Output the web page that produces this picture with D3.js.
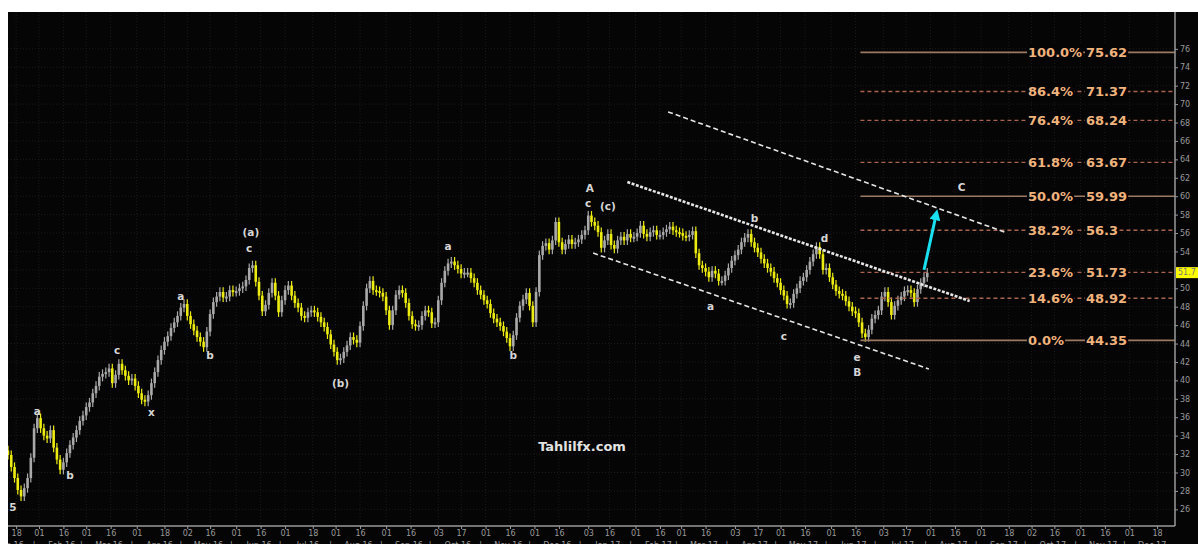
<!DOCTYPE html>
<html>
<head>
<meta charset="utf-8">
<script src="https://cdn.jsdelivr.net/npm/d3@7"></script>
<style>
  body { margin: 0; background: #fff; }
  svg { display: block; }
</style>
</head>
<body>
<svg id="chart" width="1198" height="544"></svg>
<script>
// ---- data ----
const startDate = '2016-01-13', stepDays = 2;      // one bar every 2 calendar days
const firstOpen = 32.4;
const closes = [
  31.9,30.6,29.4,28.1,27.4,28.3,29.4,31.6,34.8,35.9,34.8,34.0,33.7,34.6,32.7,31.4,30.3,31.1,32.1,33.0,33.8,
  34.6,35.6,36.2,37.1,37.6,38.6,39.4,40.4,40.7,40.9,41.3,39.7,40.6,41.8,41.1,40.5,40.0,40.2,39.4,38.6,37.9,37.7,38.4,
  39.7,40.9,42.2,43.3,44.2,44.8,45.7,46.3,47.0,47.9,48.3,47.0,46.1,45.4,44.7,44.2,43.6,
  45.3,47.2,48.5,49.1,49.6,49.0,49.1,49.8,49.6,49.7,50.0,50.2,50.9,52.2,52.5,
  50.7,49.2,47.5,48.2,49.5,50.6,49.2,47.4,48.7,49.8,50.3,49.2,48.4,47.9,47.0,46.8,47.4,47.6,47.4,46.9,46.3,45.8,45.0,43.9,43.1,42.2,
  42.4,43.1,43.8,44.7,44.4,44.1,45.9,48.1,50.0,50.8,49.8,49.7,49.5,49.1,47.6,46.0,47.6,49.3,49.8,49.5,48.4,47.0,46.1,45.9,46.0,47.0,47.6,47.4,46.2,46.3,
  48.7,50.6,51.9,52.7,52.9,52.5,52.1,51.6,51.7,51.7,51.1,50.6,49.8,49.3,48.7,48.3,47.3,46.7,46.3,45.9,45.3,44.6,43.7,44.9,46.8,48.1,48.8,49.5,48.1,46.3,49.6,
  53.6,54.6,54.9,54.2,55.2,57.2,55.0,54.2,54.8,55.3,54.8,55.0,55.3,55.8,56.3,57.9,57.2,56.8,56.1,54.4,55.2,55.9,54.7,54.3,55.2,55.6,55.2,55.9,55.5,55.6,
  56.0,56.8,55.9,55.6,56.1,56.3,55.8,55.8,56.1,56.4,56.7,56.3,56.1,56.0,55.7,55.6,55.8,56.2,
  53.8,52.5,52.2,51.8,51.2,51.9,51.6,50.8,50.8,51.4,52.2,53.0,53.6,54.2,55.0,55.5,55.9,55.0,54.4,53.9,53.2,52.7,52.2,51.8,51.1,50.6,49.8,49.2,48.3,48.4,
  49.4,50.0,50.8,51.2,52.0,52.9,53.7,54.5,53.7,52.0,52.2,51.2,50.4,49.7,49.4,49.2,48.6,48.0,47.5,47.3,46.3,45.1,44.7,45.5,46.7,47.1,47.6,49.1,49.6,48.5,
  47.1,48.1,48.7,49.1,49.7,49.8,49.5,48.5,49.9,50.6,51.2,51.7
];

const fibPct = [100.0, 86.4, 76.4, 61.8, 50.0, 38.2, 23.6, 14.6, 0.0];
const fibVal = [75.62, 71.37, 68.24, 63.67, 59.99, 56.3, 51.73, 48.92, 44.35];
const fibSolid = [true, false, false, false, true, false, false, false, true];
const fibStart = '2017-06-19';

const waveText  = ['5','a','b','c','x','a','b','(a)','c','(b)','a','b','A','c','(c)','a','b','c','d','e','B','C'];
const waveDate  = ['2016-01-16','2016-01-31','2016-02-20','2016-03-20','2016-04-10','2016-04-28','2016-05-16',
                   '2016-06-10','2016-06-09','2016-08-04','2016-10-09','2016-11-18','2017-01-04','2017-01-03',
                   '2017-01-15','2017-03-19','2017-04-15','2017-05-03','2017-05-28','2017-06-17','2017-06-17','2017-08-20'];
const wavePrice = [26.25,36.68,29.73,43.30,36.57,49.16,42.76,56.12,54.38,39.72,54.6,42.76,
                   60.89,59.26,58.94,48.08,57.64,44.82,55.46,42.54,40.91,61.0];

// channel lines: [date1, price1, date2, price2]
const chanOuter = ['2017-02-21', 69.15, '2017-09-17', 56.01];
const chanMid   = ['2017-01-27', 61.54, '2017-08-25', 48.62];
const chanLow   = ['2017-01-06', 53.83, '2017-07-31', 41.24];
const arrowPts  = ['2017-07-28', 52.0, '2017-08-04', 57.64];

const yTicks = [26,28,30,32,34,36,38,40,42,44,46,48,50,52,54,56,58,60,62,64,66,68,70,72,74,76];
const dayTicks = ['2016-01-18','2016-02-01','2016-02-16','2016-03-01','2016-03-16','2016-04-01','2016-04-18',
  '2016-05-02','2016-05-16','2016-06-01','2016-06-16','2016-07-01','2016-07-18','2016-08-01','2016-08-16',
  '2016-09-01','2016-09-16','2016-10-03','2016-10-17','2016-11-01','2016-11-16','2016-12-01','2016-12-16',
  '2017-01-03','2017-01-16','2017-02-01','2017-02-16','2017-03-01','2017-03-16','2017-04-03','2017-04-17',
  '2017-05-01','2017-05-16','2017-06-01','2017-06-16','2017-07-03','2017-07-17','2017-08-01','2017-08-16',
  '2017-09-01','2017-09-18','2017-10-02','2017-10-16','2017-11-01','2017-11-16','2017-12-01','2017-12-18'];
const months = ['Jan 16','Feb 16','Mar 16','Apr 16','May 16','Jun 16','Jul 16','Aug 16','Sep 16','Oct 16','Nov 16','Dec 16',
                'Jan 17','Feb 17','Mar 17','Apr 17','May 17','Jun 17','Jul 17','Aug 17','Sep 17','Oct 17','Nov 17','Dec 17'];

// ---- chart ----
const W = 1198, H = 544,
      plot = {l: 8, t: 12, r: 1175, b: 526},
      wick = 0.5,
      axisCol = '#9a9a9a',
      font = 'DejaVu Sans, Verdana, sans-serif';

const parse = d3.utcParse('%Y-%m-%d');
const svg = d3.select('#chart');

svg.append('rect').attr('x', plot.l).attr('y', plot.t)
   .attr('width', W - plot.l).attr('height', H - plot.t).attr('fill', '#050505');

const x = d3.scaleUtc().domain([parse('2016-01-13'), parse('2017-12-29')]).range([plot.l, plot.r]);
const y = d3.scaleLinear().domain([24.19, 80]).range([plot.b, plot.t]);

// faint dotted grid
const grid = svg.append('g').attr('stroke', '#1b1b1b').attr('stroke-dasharray', '1,2').attr('stroke-width', 1);
grid.selectAll('line.h').data(yTicks).join('line').attr('class', 'h')
    .attr('x1', plot.l).attr('x2', plot.r).attr('y1', d => y(d)).attr('y2', d => y(d));
grid.selectAll('line.v').data(dayTicks).join('line').attr('class', 'v')
    .attr('x1', d => x(parse(d))).attr('x2', d => x(parse(d))).attr('y1', plot.t).attr('y2', plot.b);

// candles
const bars = closes.map((c, i) => {
  const o = i ? closes[i - 1] : firstOpen;
  return {date: d3.utcDay.offset(parse(startDate), i * stepDays), o, c,
          hi: Math.max(o, c) + wick, lo: Math.min(o, c) - wick};
});
const col = d => d.c < d.o ? '#ecec10' : '#a9a9a9';
const cg = svg.append('g');
cg.selectAll('line').data(bars).join('line')
  .attr('x1', d => x(d.date)).attr('x2', d => x(d.date))
  .attr('y1', d => y(d.hi)).attr('y2', d => y(d.lo))
  .attr('stroke', col).attr('stroke-width', 1.2);
cg.selectAll('rect').data(bars).join('rect')
  .attr('x', d => x(d.date) - 1.3).attr('width', 2.6)
  .attr('y', d => y(Math.max(d.o, d.c)))
  .attr('height', d => Math.max(2, y(Math.min(d.o, d.c)) - y(Math.max(d.o, d.c))))
  .attr('fill', col);

// fibonacci levels
const fx1 = x(parse(fibStart));
const fg = svg.append('g');
fibVal.forEach((v, i) => {
  fg.append('line').attr('x1', fx1).attr('x2', plot.r).attr('y1', y(v)).attr('y2', y(v))
    .attr('stroke', fibSolid[i] ? '#9c7a62' : '#a8644e')
    .attr('stroke-width', fibSolid[i] ? 1.6 : 1.3)
    .attr('stroke-dasharray', fibSolid[i] ? null : '4,3');
  [[1028, fibPct[i].toFixed(1) + '%'], [1086, String(v)]].forEach(([tx, s]) => {
    const t = fg.append('text').attr('x', tx).attr('y', y(v)).attr('dy', '0.36em')
      .attr('font-family', font).attr('font-weight', 'bold').attr('font-size', 13)
      .attr('fill', '#f0b37c').text(s);
    const bb = t.node().getBBox();
    fg.insert('rect', () => t.node()).attr('x', bb.x - 1).attr('y', bb.y)
      .attr('width', bb.width + 2).attr('height', bb.height).attr('fill', '#050505');
  });
});

// channel lines
const seg = p => ({x1: x(parse(p[0])), y1: y(p[1]), x2: x(parse(p[2])), y2: y(p[3])});
[[chanOuter, 1.6, '5,3'], [chanMid, 2.6, '3,1.5'], [chanLow, 1.6, '5,3']].forEach(([p, w, dash]) => {
  const s = seg(p);
  svg.append('line').attr('x1', s.x1).attr('y1', s.y1).attr('x2', s.x2).attr('y2', s.y2)
     .attr('stroke', '#e6e6e6').attr('stroke-width', w).attr('stroke-dasharray', dash);
});

// cyan arrow
svg.append('defs').append('marker').attr('id', 'ah')
   .attr('viewBox', '0 0 10 10').attr('refX', 2).attr('refY', 5)
   .attr('markerWidth', 11).attr('markerHeight', 11).attr('markerUnits', 'userSpaceOnUse')
   .attr('orient', 'auto')
   .append('path').attr('d', 'M0,0 L10,5 L0,10 Z').attr('fill', '#19e0ee');
const a = seg(arrowPts);
svg.append('line').attr('x1', a.x1).attr('y1', a.y1).attr('x2', a.x2).attr('y2', a.y2)
   .attr('stroke', '#19e0ee').attr('stroke-width', 3).attr('marker-end', 'url(#ah)');

// wave labels
svg.append('g').selectAll('text').data(waveText).join('text')
   .attr('x', (d, i) => x(parse(waveDate[i]))).attr('y', (d, i) => y(wavePrice[i]))
   .attr('dy', '0.35em').attr('text-anchor', 'middle')
   .attr('font-family', font).attr('font-weight', 'bold').attr('font-size', 10.5)
   .attr('fill', '#d6d6d6').text(d => d);

// watermark
svg.append('text').attr('x', 582).attr('y', 446).attr('dy', '0.35em').attr('text-anchor', 'middle')
   .attr('font-family', font).attr('font-weight', 'bold').attr('font-size', 13)
   .attr('fill', '#e2e2e2').text('Tahlilfx.com');

// last price
const last = closes[closes.length - 1];

// right axis (the tick under the last-price marker is covered, as in the source)
const ya = svg.append('g').attr('transform', `translate(${plot.r},0)`)
   .call(d3.axisRight(y).tickValues(yTicks.filter(t => Math.abs(y(t) - y(last)) > 6))
         .tickSize(3).tickSizeOuter(0).tickPadding(2));
ya.select('.domain').remove();
svg.append('line').attr('x1', plot.r).attr('x2', plot.r).attr('y1', plot.t).attr('y2', plot.b)
   .attr('stroke', axisCol).attr('stroke-width', 1.5);

// bottom axis
const xa = svg.append('g').attr('transform', `translate(0,${plot.b})`)
   .call(d3.axisBottom(x).tickValues(dayTicks.map(parse)).tickFormat(d3.utcFormat('%d'))
         .tickSize(3).tickSizeOuter(0).tickPadding(1));
xa.select('.domain').remove();
svg.append('line').attr('x1', plot.l).attr('x2', plot.r).attr('y1', plot.b).attr('y2', plot.b)
   .attr('stroke', axisCol).attr('stroke-width', 1.5);

[ya, xa].forEach(g => {
  g.selectAll('.tick line').attr('stroke', axisCol);
  g.selectAll('.tick text').attr('fill', axisCol).attr('font-size', 8).attr('font-family', font);
});

// month row (mostly cut off at the bottom edge)
const mg = svg.append('g').attr('font-family', font).attr('font-size', 8).attr('fill', axisCol);
months.forEach((m, i) => {
  const d0 = d3.utcMonth.offset(parse('2016-01-01'), i);
  mg.append('text').attr('x', x(d3.utcDay.offset(d0, 14))).attr('y', 548)
    .attr('text-anchor', 'middle').text(m);
  if (i) mg.append('text').attr('x', x(d3.utcDay.offset(d0, -3))).attr('y', 548)
    .attr('text-anchor', 'middle').text('|');
});

// last price marker
svg.append('rect').attr('x', plot.r + 1).attr('y', y(last) - 5.5).attr('width', W - plot.r - 1).attr('height', 11)
   .attr('fill', '#ffff00');
svg.append('text').attr('x', plot.r + 3).attr('y', y(last)).attr('dy', '0.35em')
   .attr('font-family', font).attr('font-size', 8).attr('fill', '#777').text(last.toFixed(1));

// white page margins
svg.append('rect').attr('x', 0).attr('y', 0).attr('width', W).attr('height', plot.t).attr('fill', '#fff');
svg.append('rect').attr('x', 0).attr('y', 0).attr('width', plot.l).attr('height', H).attr('fill', '#fff');
</script>
</body>
</html>
